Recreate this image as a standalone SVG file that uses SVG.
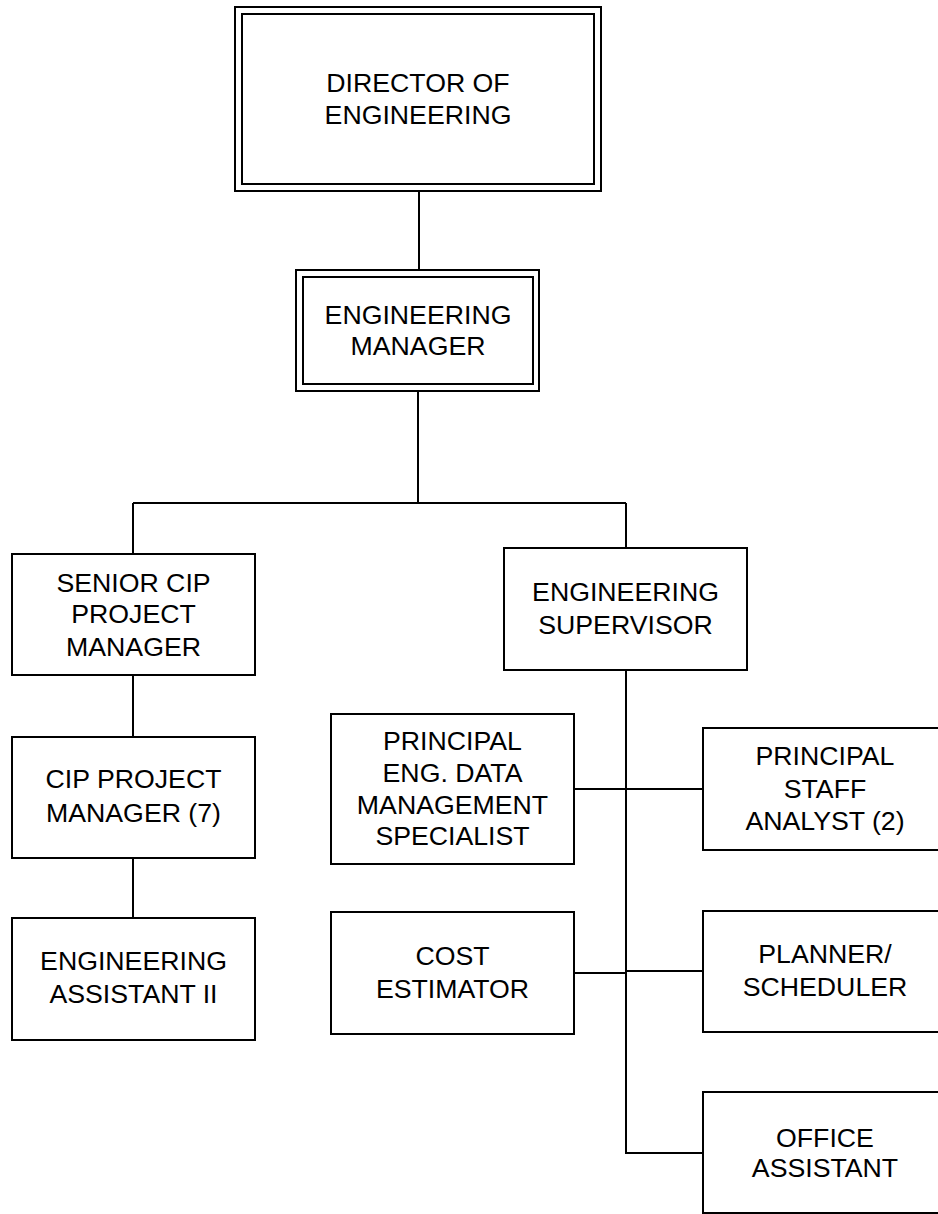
<svg xmlns="http://www.w3.org/2000/svg" width="938" height="1214" viewBox="0 0 938 1214">
<style>
  .box { fill: #ffffff; stroke: #000000; stroke-width: 2; }
  .conn { fill: none; stroke: #000000; stroke-width: 2; }
  .lbl { font-family: "Liberation Sans", Arial, sans-serif; font-size: 26.7px; fill: #000000; text-anchor: middle; }
</style>
<rect x="0" y="0" width="938" height="1214" fill="#ffffff"/>
<g id="connectors">
  <path class="conn" d="M419,191 V270"/>
  <path class="conn" d="M418,391 V503 M133,503 H626 M133,503 V554 M626,503 V548"/>
  <path class="conn" d="M133,675 V737 M133,858 V918"/>
  <path class="conn" d="M626,670 V1153 H703"/>
  <path class="conn" d="M574,789 H703"/>
  <path class="conn" d="M574,973 H626 M626,971 H703"/>
</g>
<g id="director">
  <rect class="box" x="235" y="7" width="366" height="184"/>
  <rect class="box" x="242" y="14" width="352" height="170"/>
  <text class="lbl" x="418" y="92">DIRECTOR OF</text>
  <text class="lbl" x="418" y="124">ENGINEERING</text>
</g>
<g id="manager">
  <rect class="box" x="296" y="270" width="243" height="121"/>
  <rect class="box" x="303" y="277" width="230" height="107"/>
  <text class="lbl" x="418" y="324">ENGINEERING</text>
  <text class="lbl" x="418" y="355">MANAGER</text>
</g>
<g id="senior-cip">
  <rect class="box" x="12" y="554" width="243" height="121"/>
  <text class="lbl" x="133.5" y="592">SENIOR CIP</text>
  <text class="lbl" x="133.5" y="623">PROJECT</text>
  <text class="lbl" x="133.5" y="656">MANAGER</text>
</g>
<g id="supervisor">
  <rect class="box" x="504" y="548" width="243" height="122"/>
  <text class="lbl" x="625.5" y="601">ENGINEERING</text>
  <text class="lbl" x="625.5" y="634">SUPERVISOR</text>
</g>
<g id="cip-pm">
  <rect class="box" x="12" y="737" width="243" height="121"/>
  <text class="lbl" x="133.5" y="788">CIP PROJECT</text>
  <text class="lbl" x="133.5" y="822">MANAGER (7)</text>
</g>
<g id="eng-assistant">
  <rect class="box" x="12" y="918" width="243" height="122"/>
  <text class="lbl" x="133.5" y="970">ENGINEERING</text>
  <text class="lbl" x="133.5" y="1003">ASSISTANT II</text>
</g>
<g id="pedms">
  <rect class="box" x="331" y="714" width="243" height="150"/>
  <text class="lbl" x="452.5" y="750">PRINCIPAL</text>
  <text class="lbl" x="452.5" y="782">ENG. DATA</text>
  <text class="lbl" x="452.5" y="814">MANAGEMENT</text>
  <text class="lbl" x="452.5" y="845">SPECIALIST</text>
</g>
<g id="staff-analyst">
  <rect class="box" x="703" y="728" width="244" height="122"/>
  <text class="lbl" x="825" y="765">PRINCIPAL</text>
  <text class="lbl" x="825" y="798">STAFF</text>
  <text class="lbl" x="825" y="830">ANALYST (2)</text>
</g>
<g id="cost-estimator">
  <rect class="box" x="331" y="912" width="243" height="122"/>
  <text class="lbl" x="452.5" y="965">COST</text>
  <text class="lbl" x="452.5" y="998">ESTIMATOR</text>
</g>
<g id="planner">
  <rect class="box" x="703" y="911" width="244" height="121"/>
  <text class="lbl" x="825" y="963">PLANNER/</text>
  <text class="lbl" x="825" y="996">SCHEDULER</text>
</g>
<g id="office-assistant">
  <rect class="box" x="703" y="1092" width="244" height="121"/>
  <text class="lbl" x="825" y="1147">OFFICE</text>
  <text class="lbl" x="825" y="1177">ASSISTANT</text>
</g>
</svg>
